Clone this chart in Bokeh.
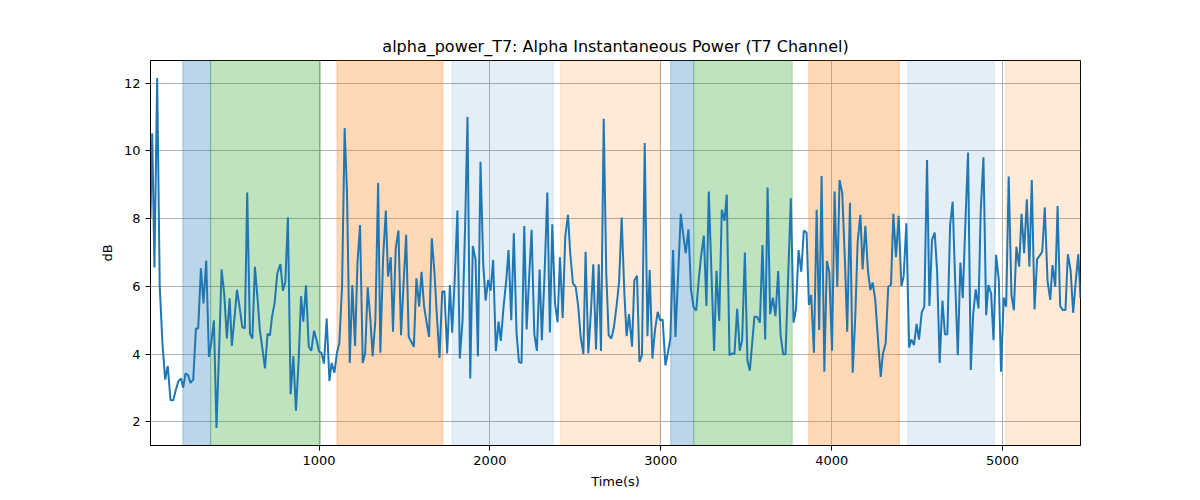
from bokeh.plotting import figure
from bokeh.models import ColumnDataSource, BoxAnnotation, Range1d, FixedTicker
from bokeh.embed import file_html
from bokeh.resources import INLINE

time_s = [14, 24, 37, 53, 68, 84, 100, 115, 131, 147, 162, 178, 193, 205, 219, 234, 248, 264, 280, 293,
          309, 324, 340, 356, 369, 385, 400, 416, 430, 445, 461, 477, 490, 506, 520, 535, 551, 566, 580, 596,
          610, 625, 641, 654, 670, 684, 699, 713,
          725, 740, 756, 774, 789, 803, 818, 834, 850, 865, 881, 895, 908, 924, 940, 955, 971, 986, 1000, 1014,
          1029, 1045, 1061, 1074, 1090, 1105, 1119, 1135, 1150, 1164, 1180, 1195, 1211, 1225, 1240, 1256, 1270,
          1285, 1301, 1314, 1330, 1346, 1359, 1375, 1391, 1404,
          1420, 1433, 1449, 1465, 1480, 1496, 1510, 1525, 1541, 1555, 1570, 1586, 1600, 1615, 1631, 1644, 1660,
          1676, 1689, 1705, 1721, 1734, 1750, 1766, 1779, 1795, 1810, 1824, 1840, 1855, 1869, 1885, 1900, 1916,
          1930, 1945, 1961, 1975, 1990, 2004, 2019, 2035, 2051, 2064, 2080, 2096, 2109,
          2125, 2140, 2156, 2170, 2185, 2201, 2215, 2230, 2244, 2260, 2275, 2291, 2304, 2320, 2336, 2351, 2365,
          2381, 2396, 2410, 2426, 2441, 2457, 2470, 2486, 2502, 2517, 2531, 2547, 2560, 2576, 2592, 2605, 2621,
          2637, 2650, 2666, 2681, 2695, 2711, 2726, 2742, 2756, 2771, 2787, 2800, 2814,
          2832, 2845, 2861, 2875, 2890, 2906, 2922, 2935, 2951, 2966, 2982, 2996, 3011, 3027, 3041, 3056, 3072,
          3086, 3101, 3117, 3130, 3146, 3162, 3177, 3191, 3207, 3222, 3236, 3252, 3267, 3281, 3297, 3312, 3326,
          3342, 3357, 3373, 3386, 3402, 3418, 3431, 3447, 3462, 3476, 3492, 3507, 3521,
          3533, 3548, 3564, 3580, 3595, 3611, 3625, 3640, 3656, 3671, 3687, 3701, 3716, 3730, 3746, 3761, 3777,
          3791, 3806, 3822, 3837, 3853, 3867, 3880, 3896, 3912, 3927, 3941, 3957, 3972, 3986, 4002, 4017, 4033,
          4046, 4062, 4078, 4091, 4107, 4123, 4138, 4152, 4168, 4181, 4197, 4212, 4226,
          4240, 4255, 4271, 4287, 4300, 4316, 4331, 4347, 4361, 4376, 4392, 4408, 4421, 4437, 4453, 4466, 4482,
          4497, 4511, 4527, 4542, 4558, 4572, 4587, 4603, 4617, 4632, 4648, 4663, 4677, 4693, 4708, 4722, 4738,
          4753, 4767, 4783, 4798, 4814, 4828, 4843, 4859, 4872, 4888, 4904, 4917, 4933,
          4947, 4962, 4978, 4991, 5007, 5021, 5036, 5052, 5066, 5081, 5097, 5111, 5126, 5142, 5157, 5171, 5187,
          5202, 5216, 5232, 5247, 5263, 5279, 5292, 5308, 5322, 5337, 5353, 5368, 5382, 5398, 5413, 5429, 5443,
          5456]

power_db = [8.0, 10.52, 6.56, 12.15, 6.0, 4.3, 3.25, 3.65, 2.64, 2.64, 2.94, 3.21, 3.28, 3.01, 3.43, 3.38, 3.15,
            3.25, 4.76, 4.76, 6.53, 5.5, 6.76, 3.92, 4.32, 5.0, 1.82, 4.2, 6.5, 5.8, 4.46, 5.65, 4.24, 5.1, 5.9,
            5.4, 4.8, 4.76, 8.77, 4.6, 4.46, 6.58, 5.6, 4.7, 4.12, 3.58, 4.6, 4.55,
            5.1, 5.5, 6.38, 6.66, 5.87, 6.14, 8.04, 2.82, 3.94, 2.33, 3.82, 5.71, 4.96, 6.03, 4.22, 4.1, 4.69,
            4.41, 4.08, 4.04, 3.72, 5.05, 3.21, 3.74, 3.45, 4.04, 4.32, 5.99, 10.67, 8.75, 3.74, 6.04, 4.24, 6.68,
            7.81, 3.74, 4.02, 5.97, 5.0, 3.94, 5.0, 9.06, 4.04, 6.83, 8.24, 6.29,
            6.86, 4.66, 7.12, 7.65, 4.56, 6.19, 7.52, 4.51, 4.36, 4.22, 6.24, 5.4, 6.43, 5.4, 4.9, 4.51, 7.42,
            6.38, 5.2, 3.89, 5.84, 5.86, 4.02, 6.04, 4.63, 6.29, 8.24, 3.87, 5.0, 7.76, 11.0, 3.28, 7.19, 6.8,
            3.94, 9.68, 6.66, 5.58, 6.19, 5.87, 6.78, 4.09, 4.96, 4.39, 5.4, 6.19, 7.07,
            5.0, 7.57, 4.61, 3.77, 3.74, 7.78, 4.73, 6.3, 7.67, 4.59, 4.1, 6.5, 4.41, 6.38, 8.77, 4.64, 7.83,
            5.5, 4.94, 6.86, 5.07, 7.47, 8.11, 6.98, 6.09, 5.99, 5.4, 4.51, 4.0, 7.02, 4.02, 5.32, 6.65, 4.14,
            6.65, 4.09, 10.95, 6.38, 4.56, 4.46, 4.81, 5.45, 6.14, 8.03, 5.79, 4.53, 5.18,
            4.22, 6.17, 6.31, 3.77, 3.97, 10.23, 4.53, 6.48, 3.87, 4.71, 5.25, 5.0, 5.02, 3.67, 4.02, 4.46, 7.07,
            4.51, 6.29, 8.14, 7.57, 6.98, 7.68, 5.89, 5.4, 5.28, 6.19, 6.9, 7.5, 5.42, 8.8, 6.31, 4.09, 6.46,
            4.98, 8.26, 7.94, 8.71, 3.97, 4.02, 4.0, 5.34, 4.1, 4.41, 7.0, 3.82, 3.51,
            4.22, 5.1, 5.1, 4.93, 7.22, 4.43, 8.92, 5.18, 5.67, 5.12, 6.45, 4.56, 4.0, 4.0, 6.38, 8.6, 4.93,
            5.32, 7.07, 6.43, 7.65, 7.59, 5.45, 5.75, 4.04, 8.26, 4.71, 9.26, 3.48, 6.75, 6.42, 4.1, 8.8, 5.99,
            9.14, 8.75, 6.68, 4.66, 8.47, 3.45, 5.1, 7.32, 8.11, 6.5, 7.79, 6.48, 5.89,
            6.11, 5.6, 4.43, 3.33, 4.02, 4.32, 5.99, 6.04, 8.14, 6.86, 8.08, 6.01, 6.29, 7.86, 4.2, 4.43, 4.27,
            4.89, 4.43, 5.23, 5.4, 9.73, 5.42, 7.37, 7.59, 6.43, 3.74, 5.58, 4.58, 4.59, 7.81, 8.5, 6.24, 3.97,
            6.7, 5.65, 7.96, 9.95, 3.53, 5.18, 5.91, 5.35, 8.21, 9.81, 5.15, 6.04, 5.79,
            4.41, 6.93, 6.19, 3.48, 5.67, 5.4, 9.24, 5.74, 5.3, 7.17, 6.58, 8.14, 6.98, 8.57, 6.58, 9.14, 5.32,
            6.8, 6.9, 7.02, 8.33, 6.17, 5.6, 6.63, 5.99, 8.37, 5.42, 5.3, 5.3, 6.95, 6.48, 5.22, 6.19, 6.95,
            5.65]

span_start = [203, 366, 1105, 1779, 2412, 3058, 3193, 3866, 4445, 5019]
span_end = [366, 1008, 1725, 2371, 2996, 3193, 3769, 4396, 4952, 5600]
span_color = ["#1f77b4", "#2ca02c", "#ff7f0e", "#1f77b4", "#ff7f0e",
              "#1f77b4", "#2ca02c", "#ff7f0e", "#1f77b4", "#ff7f0e"]
span_alpha = [0.3, 0.3, 0.3, 0.12, 0.16, 0.3, 0.3, 0.3, 0.12, 0.16]

x_ticks = [1000, 2000, 3000, 4000, 5000]
y_ticks = [2, 4, 6, 8, 10, 12]

ymin, ymax = min(power_db), max(power_db)
pad = 0.05 * (ymax - ymin)

p = figure(width=1184, height=492, output_backend="svg", toolbar_location=None,
           x_range=Range1d(min(time_s), max(time_s)), y_range=Range1d(ymin - pad, ymax + pad),
           min_border_left=150, min_border_right=104, min_border_top=60, min_border_bottom=47,
           title="alpha_power_T7: Alpha Instantaneous Power (T7 Channel)")

p.title.align = "center"
p.title.text_font = "DejaVu Sans"
p.title.text_font_size = "16px"
p.title.text_font_style = "normal"
p.title.text_color = "black"

for s, e, c, a in zip(span_start, span_end, span_color, span_alpha):
    p.add_layout(BoxAnnotation(left=s, right=e, fill_color=c, fill_alpha=a,
                               line_color=c, line_alpha=a, line_width=1, level="underlay"))

src = ColumnDataSource(data=dict(t=time_s, v=power_db))
p.line("t", "v", source=src, line_color="#1f77b4", line_width=2)

p.outline_line_color = "black"
p.outline_line_width = 1
p.outline_line_alpha = 1
p.background_fill_color = "white"
p.border_fill_color = "white"

p.xgrid.grid_line_color = "#b0b0b0"
p.ygrid.grid_line_color = "#b0b0b0"
p.xgrid.grid_line_width = 1
p.ygrid.grid_line_width = 1

p.xaxis.ticker = FixedTicker(ticks=x_ticks)
p.yaxis.ticker = FixedTicker(ticks=y_ticks)
p.xaxis.axis_label = "Time(s)"
p.yaxis.axis_label = "dB"
for ax in (p.xaxis, p.yaxis):
    ax.axis_label_text_font = "DejaVu Sans"
    ax.axis_label_text_font_size = "13px"
    ax.axis_label_text_font_style = "normal"
    ax.axis_label_text_color = "black"
    ax.major_label_text_font = "DejaVu Sans"
    ax.major_label_text_font_size = "13px"
    ax.major_label_text_color = "black"
    ax.major_tick_out = 5
    ax.major_tick_in = 0
    ax.minor_tick_line_color = None
    ax.axis_line_color = "black"
    ax.major_tick_line_color = "black"
    ax.axis_label_standoff = 6

open("out.html", "w").write(file_html(p, INLINE))
